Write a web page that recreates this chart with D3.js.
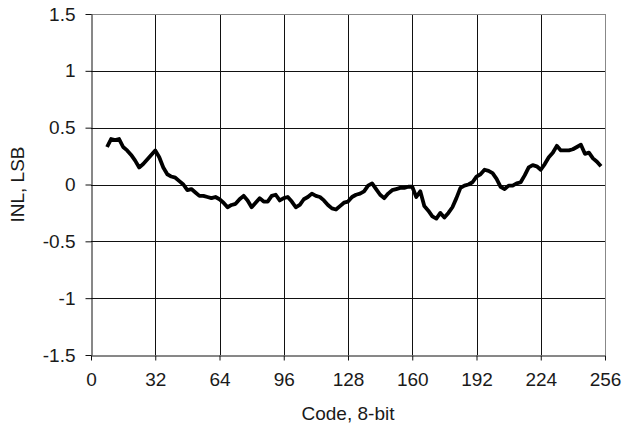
<!DOCTYPE html>
<html>
<head>
<meta charset="utf-8">
<script src="https://cdn.jsdelivr.net/npm/d3@7"></script>
<style>
  body { margin: 0; background: #fff; }
  svg text { font-family: Arial, "Liberation Sans", sans-serif; fill: #1a1a1a; }
</style>
</head>
<body>
<script>
// Codes (every second code)
const codes = [
  8, 10, 12, 14, 16, 18, 20, 22, 24, 26, 28, 30, 32,
  34, 36, 38, 40, 42, 44, 46, 48, 50, 52, 54, 56, 58, 60, 62, 64,
  66, 68, 70, 72, 74, 76, 78, 80, 82, 84, 86, 88, 90, 92, 94, 96,
  98, 100, 102, 104, 106, 108, 110, 112, 114, 116, 118, 120, 122, 124, 126, 128,
  130, 132, 134, 136, 138, 140, 142, 144, 146, 148, 150, 152, 154, 156, 158, 160,
  162, 164, 166, 168, 170, 172, 174, 176, 178, 180, 182, 184, 186, 188, 190, 192,
  194, 196, 198, 200, 202, 204, 206, 208, 210, 212, 214, 216, 218, 220, 222, 224,
  226, 228, 230, 232, 234, 236, 238, 240, 242, 244, 246, 248, 250, 252, 254
];

// INL in LSB
const inl = [
  0.33, 0.40, 0.39, 0.40, 0.33, 0.30, 0.26, 0.21, 0.15, 0.18, 0.22, 0.26, 0.30,
  0.24, 0.15, 0.09, 0.07, 0.06, 0.03, 0.00, -0.05, -0.04, -0.07, -0.10, -0.10, -0.11, -0.12, -0.11, -0.13,
  -0.16, -0.20, -0.18, -0.17, -0.13, -0.10, -0.14, -0.20, -0.16, -0.12, -0.15, -0.15, -0.10, -0.09, -0.14, -0.12,
  -0.11, -0.15, -0.20, -0.18, -0.13, -0.11, -0.08, -0.10, -0.11, -0.14, -0.18, -0.21, -0.22, -0.19, -0.16, -0.15,
  -0.11, -0.09, -0.08, -0.06, -0.01, 0.01, -0.04, -0.09, -0.12, -0.08, -0.05, -0.04, -0.03, -0.03, -0.02, -0.02,
  -0.11, -0.06, -0.19, -0.23, -0.28, -0.30, -0.25, -0.29, -0.25, -0.20, -0.12, -0.03, -0.01, 0.00, 0.02, 0.07,
  0.09, 0.13, 0.12, 0.10, 0.05, -0.02, -0.04, -0.01, -0.01, 0.01, 0.02, 0.08, 0.15, 0.17, 0.16, 0.13,
  0.18, 0.24, 0.28, 0.34, 0.30, 0.30, 0.30, 0.31, 0.33, 0.35, 0.27, 0.28, 0.23, 0.20, 0.16
];

const xTicks = [0, 32, 64, 96, 128, 160, 192, 224, 256];
const yTicks = [-1.5, -1, -0.5, 0, 0.5, 1, 1.5];

const W = 625, H = 436;
const plotLeft = 91, plotRight = 605, plotTop = 14, plotBottom = 355;

const svg = d3.select("body")
  .append("svg")
  .attr("width", W)
  .attr("height", H);

const x = d3.scaleLinear().domain([0, 256]).range([plotLeft, plotRight]);
const y = d3.scaleLinear().domain([-1.5, 1.5]).range([plotBottom, plotTop]);

// Gridlines
svg.append("g")
  .selectAll("line")
  .data(yTicks.slice(1, -1))
  .join("line")
  .attr("x1", plotLeft).attr("x2", plotRight)
  .attr("y1", d => Math.round(y(d)) + 0.5).attr("y2", d => Math.round(y(d)) + 0.5)
  .attr("stroke", "#111").attr("stroke-width", 1);

svg.append("g")
  .selectAll("line")
  .data(xTicks.slice(1, -1))
  .join("line")
  .attr("y1", plotTop).attr("y2", plotBottom)
  .attr("x1", d => Math.round(x(d)) + 0.5).attr("x2", d => Math.round(x(d)) + 0.5)
  .attr("stroke", "#111").attr("stroke-width", 1);

// Plot area border (top / right, grey)
svg.append("line")
  .attr("x1", plotLeft).attr("x2", plotRight)
  .attr("y1", plotTop + 0.5).attr("y2", plotTop + 0.5)
  .attr("stroke", "#888");
svg.append("line")
  .attr("x1", plotRight + 0.5).attr("x2", plotRight + 0.5)
  .attr("y1", plotTop).attr("y2", plotBottom)
  .attr("stroke", "#888");

// Axes
const xAxis = d3.axisBottom(x).tickValues(xTicks).tickSize(5).tickSizeOuter(0).tickPadding(12);
const yAxis = d3.axisLeft(y).tickValues(yTicks).tickSize(6).tickSizeOuter(0).tickPadding(10)
  .tickFormat(d => String(d));

const gx = svg.append("g")
  .attr("transform", `translate(0,${plotBottom + 0.5})`)
  .call(xAxis);
const gy = svg.append("g")
  .attr("transform", `translate(${plotLeft + 0.5},0)`)
  .call(yAxis);

[gx, gy].forEach(g => {
  g.select(".domain").attr("stroke", "#111");
  g.selectAll(".tick line").attr("stroke", "#111");
  g.selectAll(".tick text")
    .attr("font-size", 19)
    .attr("fill", "#1a1a1a")
    .style("font-family", "Arial, 'Liberation Sans', sans-serif");
});
gy.selectAll(".tick text").attr("x", -16);

// Data line
const line = d3.line()
  .x((d, i) => x(codes[i]))
  .y(d => y(d));

svg.append("path")
  .datum(inl)
  .attr("d", line)
  .attr("fill", "none")
  .attr("stroke", "#000")
  .attr("stroke-width", 3.8)
  .attr("stroke-linejoin", "round");

// Axis titles
svg.append("text")
  .attr("x", (plotLeft + plotRight) / 2)
  .attr("y", 420)
  .attr("text-anchor", "middle")
  .attr("font-size", 19)
  .text("Code, 8-bit");

svg.append("text")
  .attr("transform", `translate(24,${(plotTop + plotBottom) / 2}) rotate(-90)`)
  .attr("text-anchor", "middle")
  .attr("font-size", 19)
  .text("INL, LSB");
</script>
</body>
</html>
